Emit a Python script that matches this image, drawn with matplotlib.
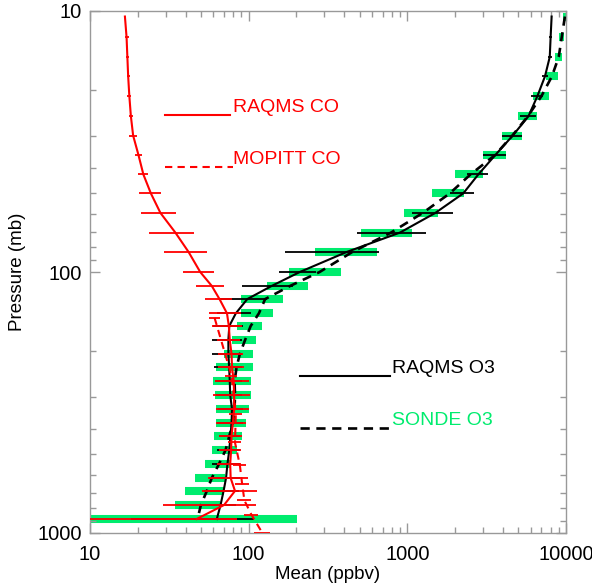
import numpy as np
import matplotlib
matplotlib.use('Agg')
import matplotlib.pyplot as plt
from matplotlib.ticker import FixedLocator, FixedFormatter, NullFormatter, LogLocator

plt.rcParams['font.family'] = ['Liberation Sans', 'DejaVu Sans']

# pressure levels (mb) shared by the model and sonde profiles
pressure = [10.5, 12.6, 15.0, 17.8, 21.2, 25.3, 30.0, 35.6, 42.3, 50.0, 59.4,
            70.6, 83.8, 100, 113, 127, 144, 161, 182, 206, 231, 262, 296,
            335, 379, 425, 481, 544, 616, 690, 781, 884]

# RAQMS CO mean and spread (ppbv)
raqms_co = [16.6, 17.0, 17.2, 17.4, 17.7, 18.1, 18.7, 20.2, 21.7, 24.2, 27.8,
            34.5, 41.8, 49.5, 58.5, 65.5, 73.0, 75.0, 76.0, 78.0, 78.5, 80.5,
            81.0, 81.0, 79.5, 78.0, 77.5, 76.5, 77.0, 82.0, 70.0, 47.0]
raqms_co_sd = [0, 0.5, 0.4, 0.4, 0.5, 0.55, 1.1, 1.0, 1.6, 3.7, 6.8,
               11, 12.5, 11, 11.6, 12.5, 17, 16, 12.5, 13.5, 14.3, 19.5,
               21, 19, 17, 13, 12.5, 13, 21.5, 31, 41, 37]

# MOPITT CO retrieval levels
mopitt_p = [150, 250, 350, 450, 550, 650, 750, 850, 1000]
mopitt_co = [61, 78, 83, 82, 88, 91, 94, 104, 122]
mopitt_sd = [5, 7, 8, 8, 8, 9, 10, 11, 14]

# RAQMS O3 mean and spread (ppbv)
raqms_o3 = [8117, 8000, 7900, 7370, 6600, 5800, 4620, 3590, 2800, 2250, 1500,
            900, 415, 210, 140, 98, 83, 75.5, 74.5, 74.5, 75.3, 76, 76.5,
            78.5, 78, 76.8, 75.5, 73.5, 72, 69.5, 66.5, 63]
raqms_o3_sd = [0, 200, 230, 350, 560, 700, 660, 610, 420, 400, 430,
               420, 245, 55, 49, 32, 20, 16, 16, 16, 15, 14.5, 14,
               14, 14.5, 11.5, 12.6, 14.8, 15.8, 17, 17, 45]

# ozonesonde O3 mean and spread (ppbv)
sonde_o3 = [9843, 9400, 9000, 8150, 7000, 5750, 4590, 3580, 2500, 1850, 1250,
            790, 450, 280, 183, 127, 116, 103, 95, 88, 84, 81.5, 82,
            81.5, 79.5, 75.5, 71.5, 65, 58.5, 54.5, 50, 47.6]
sonde_o3_sd = [300, 350, 500, 710, 820, 790, 660, 600, 490, 420, 300,
               280, 190, 100, 53, 37, 26, 18, 16, 18, 22, 21.5, 20.7,
               19, 17, 15, 13, 12, 12.5, 15, 15.8, 153]

green = '#00ec6e'
gray = '#999999'


def spread(ax, mean, sd, p, **kw):
    mean = np.asarray(mean, float)
    sd = np.asarray(sd, float)
    lo = np.clip(mean - sd, 1.0, None)
    ax.hlines(p, lo, mean + sd, **kw)


fig = plt.figure(figsize=(5.92, 5.84), dpi=100)
ax = fig.add_axes([90 / 592, 51 / 584, 476 / 592, 522 / 584])

# ozone: sonde spread (green), model spread (black)
spread(ax, sonde_o3, sonde_o3_sd, pressure, color=green, lw=5.8, zorder=1)
spread(ax, raqms_o3, raqms_o3_sd, pressure, color='black', lw=1.3, zorder=2)
ax.plot(raqms_o3, pressure, color='black', lw=1.5, zorder=3)
ax.plot(sonde_o3, pressure, color='black', lw=1.9, ls=(0, (3.5, 2.5)), zorder=3)

# carbon monoxide
spread(ax, raqms_co, raqms_co_sd, pressure, color='red', lw=1.3, zorder=4)
spread(ax, mopitt_co, mopitt_sd, mopitt_p, color='red', lw=1.3, zorder=4)
ax.plot(raqms_co, pressure, color='red', lw=1.5, zorder=5)
ax.plot(mopitt_co, mopitt_p, color='red', lw=1.5, ls=(0, (3.5, 2.5)), zorder=5)

ax.set_xscale('log')
ax.set_yscale('log')
ax.set_xlim(10, 10000)
ax.set_ylim(1000, 10)

ax.xaxis.set_major_locator(FixedLocator([10, 100, 1000, 10000]))
ax.xaxis.set_major_formatter(FixedFormatter(['10', '100', '1000', '10000']))
ax.yaxis.set_major_locator(FixedLocator([10, 100, 1000]))
ax.yaxis.set_major_formatter(FixedFormatter(['10', '100', '1000']))
ax.xaxis.set_minor_locator(LogLocator(base=10, subs=np.arange(2, 10)))
ax.yaxis.set_minor_locator(LogLocator(base=10, subs=np.arange(2, 10)))
ax.xaxis.set_minor_formatter(NullFormatter())
ax.yaxis.set_minor_formatter(NullFormatter())

ax.tick_params(which='both', direction='in', top=True, right=True,
               color=gray, width=1.0, labelsize=14.5, labelcolor='black')
ax.tick_params(which='major', length=7)
ax.tick_params(which='minor', length=4)
ax.tick_params(axis='x', pad=9)
ax.tick_params(axis='y', pad=6)
for s in ax.spines.values():
    s.set_color(gray)
    s.set_linewidth(1.0)

ax.set_xlabel('Mean (ppbv)', fontsize=13.5, labelpad=1)
ax.set_ylabel('Pressure (mb)', fontsize=13.5, labelpad=8)

# legend drawn in axes fraction, IDL style
tr = ax.transAxes
ax.plot([0.158, 0.294], [0.801, 0.801], color='red', lw=1.5, transform=tr)
ax.text(0.300, 0.816, 'RAQMS CO', color='red', fontsize=14,
        va='center', ha='left', transform=tr)
ax.plot([0.158, 0.300], [0.701, 0.701], color='red', lw=1.5,
        ls=(0, (3.5, 2.5)), transform=tr)
ax.text(0.300, 0.715, 'MOPITT CO', color='red', fontsize=14,
        va='center', ha='left', transform=tr)
ax.plot([0.441, 0.630], [0.301, 0.301], color='black', lw=1.5, transform=tr)
ax.text(0.634, 0.316, 'RAQMS O3', color='black', fontsize=14,
        va='center', ha='left', transform=tr)
ax.plot([0.441, 0.634], [0.201, 0.201], color='black', lw=1.9,
        ls=(0, (3.5, 2.5)), transform=tr)
ax.text(0.634, 0.215, 'SONDE O3', color=green, fontsize=14,
        va='center', ha='left', transform=tr)

fig.savefig('out.png', dpi=100)
